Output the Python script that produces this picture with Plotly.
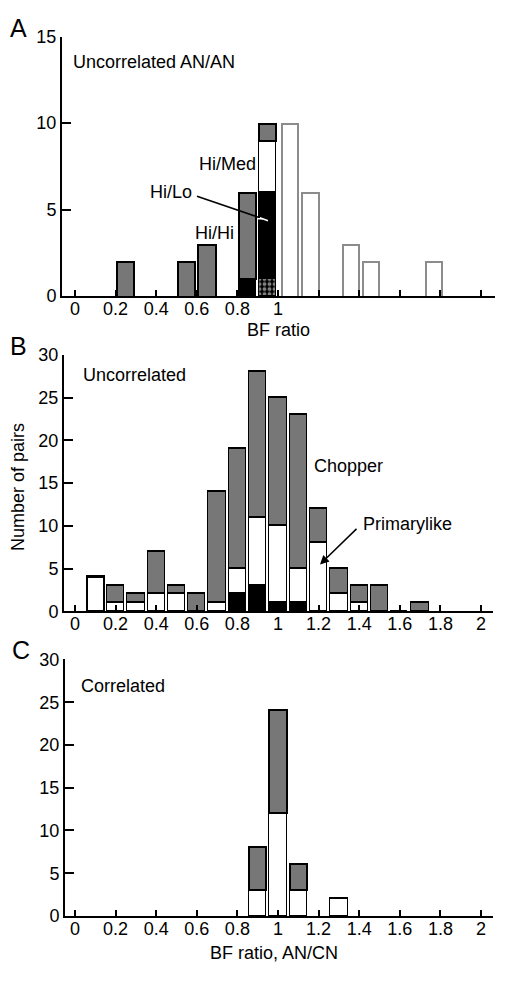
import plotly.graph_objects as go

# ---------------- data ----------------
# Panel A (Uncorrelated AN/AN)
A_x_gray = [0.25, 0.55, 0.65, 0.85, 0.95]
A_gray = [2, 2, 3, 5, 1]
A_x_black = [0.85, 0.95]
A_black = [1, 5]
A_x_hatch = [0.95]
A_hatch = [1]
A_x_white = [0.95]
A_white = [3]
A_x_open = [1.06, 1.16, 1.36, 1.46, 1.77]
A_open = [10, 6, 3, 2, 2]

# Panel B (Uncorrelated)
B_x = [0.1, 0.2, 0.3, 0.4, 0.5, 0.6, 0.7, 0.8, 0.9, 1.0, 1.1, 1.2, 1.3, 1.4, 1.5, 1.6, 1.7]
B_black = [0, 0, 0, 0, 0, 0, 0, 2, 3, 1, 1, 0, 0, 0, 0, 0, 0]
B_white = [4, 1, 1, 2, 2, 0, 1, 3, 8, 9, 4, 8, 2, 1, 0, 0, 0]
B_gray = [0, 2, 1, 5, 1, 2, 13, 14, 17, 15, 18, 4, 3, 2, 3, 0, 1]

# Panel C (Correlated)
C_x = [0.9, 1.0, 1.1, 1.3]
C_white = [3, 12, 3, 2]
C_gray = [5, 12, 3, 0]

tick_vals = [0, 0.2, 0.4, 0.6, 0.8, 1, 1.2, 1.4, 1.6, 1.8, 2]
tick_text_full = ["0", "0.2", "0.4", "0.6", "0.8", "1", "1.2", "1.4", "1.6", "1.8", "2"]
tick_text_A = ["0", "0.2", "0.4", "0.6", "0.8", "1", "", "", "", "", ""]

GRAY = "#777777"
OPEN = "#8c8c8c"
W = 0.085
FONT = "Liberation Sans, Arial, Helvetica, sans-serif"

# page offset (browser body margin)
OFF = 8
WID = 506.0 - 2 * OFF
H = 982.0 - 2 * OFF

fig = go.Figure()

# ---- Panel A ----
fig.add_trace(go.Bar(x=A_x_hatch, y=A_hatch, width=W, xaxis="x", yaxis="y",
                     marker=dict(color="black", line=dict(color="black", width=1.5),
                                 pattern=dict(shape=".", fgcolor="white", bgcolor="black",
                                              size=5, solidity=0.45))))
fig.add_trace(go.Bar(x=A_x_black, y=A_black, width=W, xaxis="x", yaxis="y",
                     marker=dict(color="black", line=dict(color="black", width=1.5))))
fig.add_trace(go.Bar(x=A_x_white, y=A_white, width=W, xaxis="x", yaxis="y",
                     marker=dict(color="white", line=dict(color="black", width=1.5))))
fig.add_trace(go.Bar(x=A_x_gray, y=A_gray, width=W, xaxis="x", yaxis="y",
                     marker=dict(color=GRAY, line=dict(color="black", width=2))))
fig.add_trace(go.Bar(x=A_x_open, y=A_open, width=W - 0.005, xaxis="x", yaxis="y",
                     marker=dict(color="white", line=dict(color=OPEN, width=2))))

# ---- Panel B ----
b_white_lw = [2.5] + [1.5] * (len(B_x) - 1)
fig.add_trace(go.Bar(x=B_x, y=B_black, width=W, xaxis="x2", yaxis="y2",
                     marker=dict(color="black", line=dict(color="black", width=1.5))))
fig.add_trace(go.Bar(x=B_x, y=B_white, width=W, xaxis="x2", yaxis="y2",
                     marker=dict(color="white", line=dict(color="black", width=b_white_lw))))
fig.add_trace(go.Bar(x=B_x, y=B_gray, width=W, xaxis="x2", yaxis="y2",
                     marker=dict(color=GRAY, line=dict(color="black", width=1.5))))

# ---- Panel C ----
fig.add_trace(go.Bar(x=C_x, y=C_white, width=W, xaxis="x3", yaxis="y3",
                     marker=dict(color="white", line=dict(color="black", width=1.5))))
fig.add_trace(go.Bar(x=C_x, y=C_gray, width=W, xaxis="x3", yaxis="y3",
                     marker=dict(color=GRAY, line=dict(color="black", width=2))))


def fx(xp):
    return (xp - OFF) / WID


def fy(yp):
    return 1 - (yp - OFF) / H


def ydom(top_px, bot_px):
    return [fy(bot_px), fy(top_px)]


common_x = dict(showline=True, linecolor="black", linewidth=2, ticks="inside",
                ticklen=6, tickwidth=2, tickcolor="black", showgrid=False,
                zeroline=False, tickvals=tick_vals, ticklabelstandoff=-5,
                tickfont=dict(size=18, color="black", family=FONT))
common_y = dict(showline=True, linecolor="black", linewidth=2, ticks="inside",
                ticklen=9, tickwidth=2, tickcolor="black", showgrid=False,
                zeroline=False, tickfont=dict(size=18, color="black", family=FONT))

fig.update_layout(
    width=int(WID), height=int(H),
    margin=dict(l=0, r=0, t=0, b=0),
    paper_bgcolor="white", plot_bgcolor="white",
    barmode="stack", showlegend=False, bargap=0,
    font=dict(family=FONT, size=18, color="black"),
    xaxis=dict(domain=[fx(62), fx(495)], range=[-0.064, 2.069], anchor="y",
               ticktext=tick_text_A, **common_x),
    yaxis=dict(domain=ydom(27, 292), range=[0, 15], anchor="x",
               tickvals=[0, 5, 10, 15], **common_y),
    xaxis2=dict(domain=[fx(64), fx(493)], range=[-0.054, 2.059], anchor="y2",
                ticktext=tick_text_full, **common_x),
    yaxis2=dict(domain=ydom(352, 614), range=[0, 30], anchor="x2",
                tickvals=[0, 5, 10, 15, 20, 25, 30], **common_y),
    xaxis3=dict(domain=[fx(65), fx(493)], range=[-0.049, 2.059], anchor="y3",
                ticktext=tick_text_full, **common_x),
    yaxis3=dict(domain=ydom(663, 925), range=[0, 30], anchor="x3",
                tickvals=[0, 5, 10, 15, 20, 25, 30], **common_y),
)

ann = []


def txt(xp, yp, s, size=18, xanchor="left", **kw):
    ann.append(dict(x=fx(xp), y=fy(yp), text=s, showarrow=False, xref="paper",
                    yref="paper", xanchor=xanchor, yanchor="middle",
                    font=dict(size=size, color="black", family=FONT), **kw))


# panel letters
for letter, (xp, yp) in zip("ABC", [(8, 18), (8, 343), (10, 653)]):
    txt(xp, yp, letter, size=25)

# panel A texts
txt(71, 53, "Uncorrelated AN/AN")
txt(258, 157, "Hi/Med", xanchor="right")
txt(194, 186, "Hi/Lo", xanchor="right")
txt(236, 228, "Hi/Hi", xanchor="right")
txt(278, 327, "BF ratio", xanchor="center")

# panel B texts
txt(81, 373, "Uncorrelated")
txt(312, 465, "Chopper")
txt(361, 525, "Primarylike")
ann.append(dict(x=fx(18), y=fy(487), text="Number of pairs", showarrow=False,
                xref="paper", yref="paper", textangle=-90, xanchor="center",
                yanchor="middle", font=dict(size=18, color="black", family=FONT)))

# panel C texts
txt(79, 690, "Correlated")
txt(274, 963, "BF ratio, AN/CN", xanchor="center")

# Hi/Lo pointer line (black part then white part over the black bar)
shapes = [
    dict(type="line", xref="paper", yref="paper", x0=fx(197), y0=fy(190),
         x1=fx(260), y1=fy(212), line=dict(color="black", width=1.5)),
    dict(type="line", xref="paper", yref="paper", x0=fx(260), y0=fy(212),
         x1=fx(268), y1=fy(215), line=dict(color="white", width=1.5)),
    dict(type="line", xref="paper", yref="paper", x0=fx(257), y0=fy(213),
         x1=fx(263), y1=fy(213), line=dict(color="white", width=1.5)),
]

# Primarylike arrow
ann.append(dict(x=fx(320), y=fy(566), xref="paper", yref="paper", ax=38, ay=-37,
                showarrow=True, arrowhead=2, arrowsize=1.2, arrowwidth=1.5,
                arrowcolor="black", text=""))

fig.update_layout(annotations=ann, shapes=shapes)

fig.write_html("out.html")
